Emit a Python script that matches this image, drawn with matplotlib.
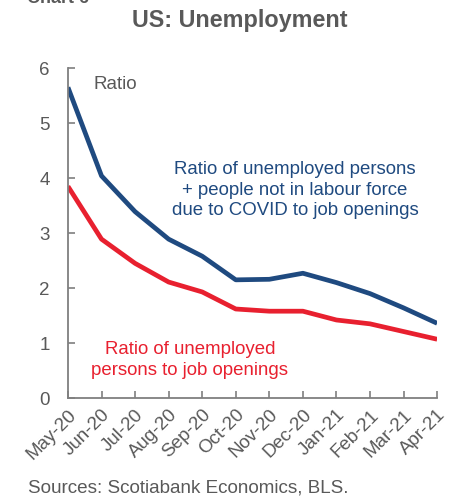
import matplotlib
matplotlib.use("Agg")
import matplotlib.pyplot as plt

plt.rcParams['font.family'] = ['Liberation Sans', 'DejaVu Sans']

months = ["May-20", "Jun-20", "Jul-20", "Aug-20", "Sep-20", "Oct-20",
          "Nov-20", "Dec-20", "Jan-21", "Feb-21", "Mar-21", "Apr-21"]
ratio_incl_covid = [5.65, 4.04, 3.39, 2.89, 2.58, 2.15, 2.16, 2.27, 2.10, 1.90, 1.64, 1.36]
ratio_unemployed = [3.85, 2.89, 2.45, 2.11, 1.93, 1.62, 1.58, 1.58, 1.42, 1.35, 1.21, 1.07]
y_ticks = [0, 1, 2, 3, 4, 5, 6]

BLUE = "#1f4a80"
RED = "#e8202f"
GREY = "#595959"
AXIS = "#7f7f7f"

fig = plt.figure(figsize=(4.53, 4.97), dpi=100)
ax = fig.add_axes([0.150, 0.199, 0.815, 0.664])

x = list(range(len(months)))
ax.plot(x, ratio_incl_covid, color=BLUE, lw=3.4, solid_capstyle="butt")
ax.plot(x, ratio_unemployed, color=RED, lw=3.4, solid_capstyle="butt")

ax.set_xlim(0, len(months) - 1)
ax.set_ylim(0, 6)
ax.set_yticks(y_ticks)
ax.set_xticks(x)
ax.set_xticklabels(months, rotation=45, ha="right", rotation_mode="anchor")

for s in ("top", "right"):
    ax.spines[s].set_visible(False)
for s in ("left", "bottom"):
    ax.spines[s].set_color(AXIS)
    ax.spines[s].set_linewidth(1.3)

ax.tick_params(axis="y", direction="in", length=5, width=1.2, color=AXIS,
               labelsize=13.5, labelcolor=GREY, pad=13)
ax.tick_params(axis="x", direction="in", length=5, width=1.2, color=AXIS,
               labelsize=13.5, labelcolor=GREY, pad=6)

ax.text(0.07, 0.95, "Ratio", transform=ax.transAxes, fontsize=13.5,
        color=GREY, ha="left", va="center")
ax.text(0.615, 0.63, "Ratio of unemployed persons\n+ people not in labour force\ndue to COVID to job openings",
        transform=ax.transAxes, fontsize=13.4, color=BLUE, ha="center",
        va="center", linespacing=1.28)
ax.text(0.33, 0.115, "Ratio of unemployed\npersons to job openings",
        transform=ax.transAxes, fontsize=13.4, color=RED, ha="center",
        va="center", linespacing=1.28)

fig.text(0.53, 0.958, "US: Unemployment", fontsize=16.8, fontweight="bold",
         color=GREY, ha="center", va="center")
fig.text(0.06, 1.004, "Chart 6", fontsize=13, fontweight="bold",
         color=GREY, ha="left", va="center")
fig.text(0.062, 0.018, "Sources: Scotiabank Economics, BLS.", fontsize=13.6,
         color=GREY, ha="left", va="center")

fig.savefig("out.png", dpi=100)
